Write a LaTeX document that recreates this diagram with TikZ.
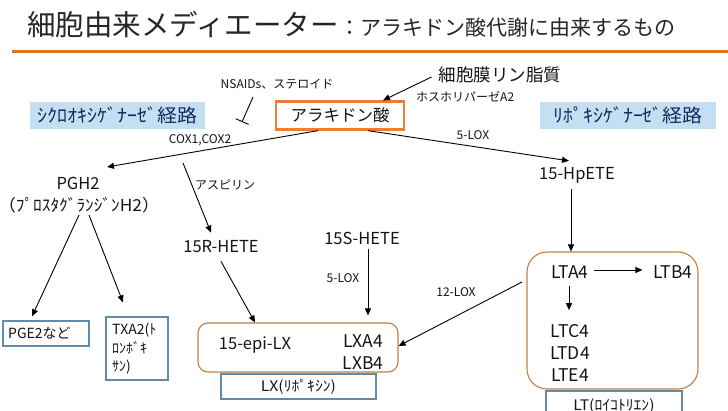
\documentclass[tikz,border=0pt]{standalone}
\usepackage{fontspec}
\usepackage{graphicx}
\setmainfont{Noto Sans CJK JP}
\usetikzlibrary{arrows.meta}
\definecolor{titleline}{RGB}{218,116,32}
\definecolor{titletxt}{RGB}{38,38,38}
\definecolor{txt}{RGB}{20,20,20}
\definecolor{araorange}{RGB}{237,125,49}
\definecolor{rboxc}{RGB}{196,126,62}
\definecolor{bboxc}{RGB}{100,138,168}
\definecolor{pathfill}{RGB}{195,223,241}
\definecolor{pathtxt}{RGB}{22,40,96}
\begin{document}
\begin{tikzpicture}[x=1pt,y=-1pt,
  every node/.style={inner sep=0pt, text=txt},
  f12/.style={font=\fontsize{12}{14}\selectfont},
  f14/.style={font=\fontsize{14}{18}\selectfont},
  f16/.style={font=\fontsize{16.5}{20}\selectfont},
  f17/.style={font=\fontsize{17.5}{21}\selectfont},
  arr/.style={-{Triangle[length=7pt,width=6pt]}, line width=0.9pt},
  plain/.style={line width=0.9pt},
  inhib/.style={-{Bar[width=14pt,line width=0.9pt]}, line width=0.9pt},
  rbox/.style={draw=rboxc, line width=1.1pt},
  bbox/.style={draw=bboxc, line width=1.3pt, fill=white},
  pathbox/.style={fill=pathfill, text=pathtxt, font=\fontsize{18.5}{21}\selectfont}]
\useasboundingbox (0,0) rectangle (728,411);
\fill[white] (0,0) rectangle (728,411);

% title
\node[anchor=base west, font=\fontsize{28.5}{32}\selectfont, text=titletxt] (t1) at (27,36) {細胞由来メディエーター};
\node[anchor=base west, font=\fontsize{21}{24}\selectfont, text=titletxt] (t2) at (t1.base east) {：アラキドン酸代謝に由来するもの};
\draw[line width=3pt, titleline] (12,51.5) -- (728,51.5);

% top part
\node[draw=araorange, line width=2.3pt, minimum width=128pt, minimum height=28pt, f16] (ara) at (340,115.5) {アラキドン酸};
\node[f17] (mem) at (500,75) {細胞膜リン脂質};
\node[f12, anchor=west] (pla) at (416,97) {ホスホリパーゼA2};
\draw[arr] ([xshift=-7pt,yshift=-2pt]mem.west) -- ([xshift=43pt]ara.north);
\node[f12] (nsaid) at (277,84) {NSAIDs、ステロイド};
\coordinate (inhs) at (253,97);
\coordinate (inhe) at (242,122);
\draw[inhib] (inhs) -- (inhe);

\node[pathbox, minimum width=175pt, minimum height=27pt] (cox) at (117.5,115.5) {\scalebox{1.08}[1]{ｼｸﾛｵｷｼｹﾞﾅｰｾﾞ経路}};
\node[pathbox, minimum width=176pt, minimum height=27pt] (lox) at (628,115.5) {\scalebox{1.08}[1]{ﾘﾎﾟｷｼｹﾞﾅｰｾﾞ経路}};

% COX branch
\node[f16] (pgh) at (78,183) {PGH2};
\node[font=\fontsize{16.5}{20}\selectfont] (pghj) at (79,205) {\scalebox{1.05}[1]{（ﾌﾟﾛｽﾀｸﾞﾗﾝｼﾞﾝH2）}};
\coordinate (pghtip) at (107,167);
\draw[arr] ([xshift=-22pt]ara.south) -- (pghtip);
\node[f12] (coxl) at (200,140) {COX1,COX2};

\node[bbox, minimum width=86pt, minimum height=25pt] (pge) at (46,333.5) {};
\node[f14, anchor=west] (pget) at (8,333.5) {PGE2など};
\node[bbox, minimum width=62pt, minimum height=63pt] (txa) at (137,348.5) {};
\node[f14, anchor=north west, align=left, font=\fontsize{14}{18.5}\selectfont] (txat) at (112,323) {TXA2(ﾄ\\ﾛﾝﾎﾞｷ\\ｻﾝ)};
\draw[arr] ([xshift=0pt,yshift=-2pt]pghj.south) -- ([xshift=-14pt,yshift=4pt]pge.north);
\draw[arr] ([xshift=10pt,yshift=-2pt]pghj.south) -- ([xshift=-14pt,yshift=14pt]txa.north);

% aspirin
\node[f16] (rhete) at (221,247) {15R-HETE};
\coordinate (asps) at (183,163);
\draw[arr] (asps) -- ([xshift=-10pt,yshift=8pt]rhete.north);
\node[f12] (aspl) at (225,185) {アスピリン};

% LX
\node[rbox, rounded corners=10pt, minimum width=200pt, minimum height=49pt] (lxbox) at (298,347.5) {};
\node[f16] (epi) at (255,345) {15-epi-LX};
\node[f17] (lxa) at (363,341) {LXA4};
\node[f17] (lxb) at (363,363) {LXB4};
\node[bbox, minimum width=155pt, minimum height=25pt, font=\fontsize{14.5}{18}\selectfont] (lxl) at (298.5,386.5) {\scalebox{1.08}[1]{LX(ﾘﾎﾟｷｼﾝ)}};
\draw[arr] ([yshift=-8pt]rhete.south) -- ([xshift=-43pt]lxbox.north);

\node[f16] (shete) at (362,238) {15S-HETE};
\draw[arr] ([xshift=6pt,yshift=-5pt]shete.south) -- ([xshift=70pt,yshift=7pt]lxbox.north);
\node[f12] (lox5b) at (343,278) {5-LOX};

% LOX branch
\node[f16] (hpete) at (577,175) {15-HpETE};
\draw[plain,arr] ([xshift=28pt]ara.south) -- ([xshift=-8pt,yshift=6pt]hpete.north);
\node[f12] (lox5a) at (473,135) {5-LOX};

\node[rbox, rounded corners=20pt, minimum width=171pt, minimum height=137pt] (ltbox) at (612.5,320.5) {};
\draw[arr] ([xshift=-6pt,yshift=-6pt]hpete.south) -- ([xshift=-41.5pt]ltbox.north);
\node[f17] (lta) at (570,272) {LTA4};
\node[f17] (ltb) at (673,272) {LTB4};
\draw[arr] ([xshift=5pt,yshift=2pt]lta.east) -- ([xshift=-11pt,yshift=2pt]ltb.west);
\node[f17] (ltc) at (570,331) {LTC4};
\node[f17] (ltd) at (570,353) {LTD4};
\node[f17] (lte) at (570,375) {LTE4};
\draw[arr] ([xshift=-1pt,yshift=-7pt]lta.south) -- ([xshift=-1pt,yshift=14pt]ltc.north);
\node[bbox, minimum width=136pt, minimum height=27pt] (ltl) at (614,404.5) {};
\node[font=\fontsize{14.5}{18}\selectfont] (ltlt) at (614,406) {\scalebox{1.08}[1]{LT(ﾛｲｺﾄﾘｴﾝ)}};

\coordinate (lox12s) at (522,282);
\draw[arr] (lox12s) -- ([yshift=1.5pt]lxbox.east);
\node[f12] (lox12) at (456,292) {12-LOX};
\end{tikzpicture}
\end{document}
